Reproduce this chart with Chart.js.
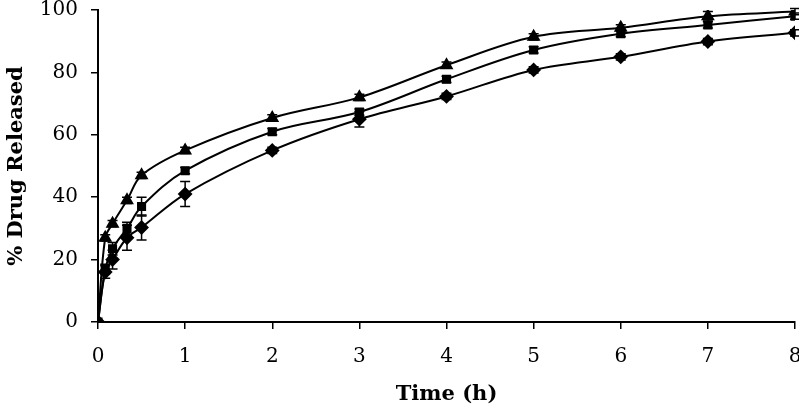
<!DOCTYPE html>
<html>
<head>
<meta charset="utf-8">
<script src="https://cdn.jsdelivr.net/npm/chart.js@4"></script>
<style>
html,body{margin:0;padding:0;background:#fff;overflow:hidden;}
#wrap{width:799px;height:409px;overflow:hidden;}
</style>
</head>
<body>
<div id="wrap"><canvas id="c" width="803" height="409"></canvas></div>
<script>
const timePoints = [0, 0.083, 0.167, 0.333, 0.5, 1, 2, 3, 4, 5, 6, 7, 8];
const triangleSeries = [0, 27, 31.5, 39, 47, 55, 65.4, 72, 82.3, 91.4, 94.3, 98, 99.5];
const squareSeries   = [0, 17, 23.5, 30, 37, 48.5, 61, 67.3, 77.8, 87.2, 92.4, 95.2, 98];
const diamondSeries  = [0, 16, 20, 27, 30.3, 41, 55, 65, 72.3, 80.8, 85, 89.9, 92.7];
const triangleErr = [0, 1, 1, 1, 1, 1, 1, 1, 1, 1, 1, 1.5, 1];
const squareErr   = [0, 1.5, 2, 2, 3, 1, 1, 1, 1, 1, 1, 1, 1];
const diamondErr  = [0, 2, 3, 4, 4, 4, 1, 2.5, 1, 1, 1, 1, 1];
const yTicks = [0, 20, 40, 60, 80, 100];
const xTicks = [0, 1, 2, 3, 4, 5, 6, 7, 8];

function pts(ys){ return timePoints.map((t,i)=>({x:t,y:ys[i]})); }

const errorBars = {
  id:'errorBars',
  afterDatasetsDraw(chart){
    const ctx = chart.ctx, xs = chart.scales.x, ys = chart.scales.y;
    ctx.save();
    ctx.strokeStyle = '#000'; ctx.lineWidth = 1.5;
    chart.data.datasets.forEach(ds=>{
      ds.data.forEach((p,i)=>{
        const e = ds.errors[i]; if(!e) return;
        const px = xs.getPixelForValue(p.x);
        const y1 = ys.getPixelForValue(p.y - e), y2 = ys.getPixelForValue(p.y + e);
        ctx.beginPath();
        ctx.moveTo(px, y1); ctx.lineTo(px, y2);
        ctx.moveTo(px-5, y1); ctx.lineTo(px+5, y1);
        ctx.moveTo(px-5, y2); ctx.lineTo(px+5, y2);
        ctx.stroke();
      });
    });
    ctx.restore();
  }
};

const common = {borderColor:'#000', backgroundColor:'#000', borderWidth:2, tension:0.35, pointBorderColor:'#000', pointBackgroundColor:'#000'};

new Chart(document.getElementById('c'), {
  type:'line',
  data:{datasets:[
    Object.assign({label:'A', data:pts(triangleSeries), errors:triangleErr, pointStyle:'triangle', pointRadius:6}, common),
    Object.assign({label:'B', data:pts(squareSeries), errors:squareErr, pointStyle:'rect', pointRadius:5}, common),
    Object.assign({label:'C', data:pts(diamondSeries), errors:diamondErr, pointStyle:'rectRot', pointRadius:6}, common)
  ]},
  options:{
    responsive:false, animation:false,
    layout:{padding:{left:4, right:0, top:10, bottom:0}},
    plugins:{legend:{display:false}, tooltip:{enabled:false}},
    scales:{
      x:{type:'linear', min:0, max:8,
        afterBuildTicks(s){ s.ticks = xTicks.map(v=>({value:v})); },
        afterFit(s){ s.height = 87; s.paddingRight = 0; s.paddingLeft = 0; },
        border:{color:'#000', width:2},
        grid:{drawOnChartArea:false, color:'#000', tickLength:7, lineWidth:1.5},
        ticks:{color:'#000', padding:16, maxRotation:0, font:{family:'DejaVu Serif', size:20}},
        title:{display:true, text:'Time (h)', color:'#000', padding:{top:2, bottom:2}, font:{family:'DejaVu Serif', size:21, weight:'bold'}}
      },
      y:{min:0, max:100,
        afterBuildTicks(s){ s.ticks = yTicks.map(v=>({value:v})); },
        afterFit(s){ s.width = 94; s.paddingTop = 0; s.paddingBottom = 0; },
        border:{color:'#000', width:2},
        grid:{drawOnChartArea:false, color:'#000', tickLength:7, lineWidth:1.5},
        ticks:{color:'#000', padding:13, font:{family:'DejaVu Serif', size:20}},
        title:{display:true, text:'% Drug Released', color:'#000', padding:{top:0, bottom:2}, font:{family:'DejaVu Serif', size:21, weight:'bold'}}
      }
    }
  },
  plugins:[errorBars]
});
</script>
</body>
</html>
